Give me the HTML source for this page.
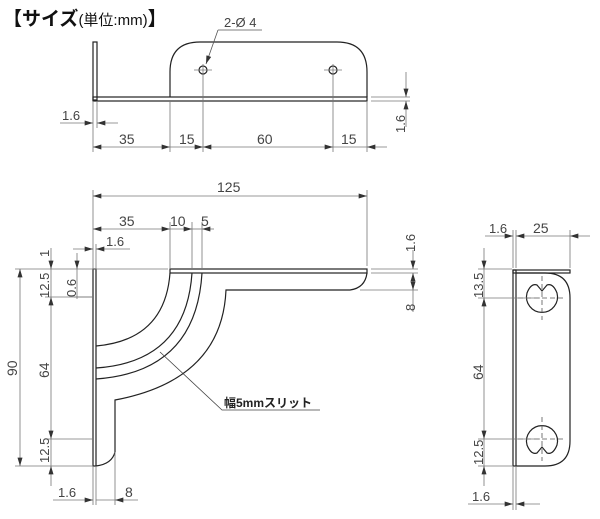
<!DOCTYPE html>
<html><head><meta charset="utf-8"><style>
html,body{margin:0;padding:0;background:#fff;}
svg{display:block;}
text{font-family:"Liberation Sans","Noto Sans CJK JP",sans-serif;fill:#444;}
</style></head><body>
<svg width="600" height="519" viewBox="0 0 600 519" xmlns="http://www.w3.org/2000/svg">
<defs>
<marker id="a" viewBox="0 0 10 6" refX="10" refY="3" markerWidth="9" markerHeight="5" markerUnits="userSpaceOnUse" orient="auto-start-reverse"><path d="M0,0L10,3L0,6Z" fill="#333"/></marker>
</defs>
<text x="3" y="25" font-size="19" font-weight="bold" style="fill:#111">【サイズ<tspan font-size="15" font-weight="normal">(単位:mm)</tspan>】</text>

<!-- TOP VIEW -->
<g stroke="#222" stroke-width="1.2" fill="none">
<rect x="93" y="42" width="4" height="58"/>
<rect x="93" y="97" width="274" height="4"/>
<path d="M170,97 L170,72 Q170,42 200,42 L337,42 Q367,42 367,72 L367,97"/>
<circle cx="203" cy="70" r="4"/><circle cx="333" cy="70" r="4"/>
</g>
<g stroke="#777" stroke-width="0.8" fill="none">
<line x1="194" y1="70" x2="212" y2="70"/><line x1="324" y1="70" x2="342" y2="70"/>
<line x1="203" y1="64" x2="203" y2="152"/><line x1="333" y1="64" x2="333" y2="152"/>
<line x1="93" y1="101" x2="93" y2="152"/><line x1="97" y1="101" x2="97" y2="128"/>
<line x1="170" y1="101" x2="170" y2="152"/><line x1="367" y1="101" x2="367" y2="152"/>
<line x1="93" y1="147" x2="170" y2="147" marker-start="url(#a)" marker-end="url(#a)"/>
<line x1="170" y1="147" x2="203" y2="147" marker-end="url(#a)"/>
<line x1="203" y1="147" x2="333" y2="147" marker-start="url(#a)" marker-end="url(#a)"/>
<line x1="333" y1="147" x2="367" y2="147"/>
<line x1="387" y1="147" x2="367" y2="147" marker-end="url(#a)"/>
<line x1="60" y1="123" x2="93" y2="123" marker-end="url(#a)"/>
<line x1="118" y1="123" x2="97" y2="123" marker-end="url(#a)"/>
<line x1="371" y1="97" x2="410" y2="97"/><line x1="371" y1="101" x2="410" y2="101"/>
<line x1="406" y1="72" x2="406" y2="97" marker-end="url(#a)"/>
<line x1="406" y1="127" x2="406" y2="101" marker-end="url(#a)"/>
<path d="M218,30 L262,30" stroke="#555"/>
<line x1="218" y1="30" x2="206" y2="64" stroke="#555" marker-end="url(#a)"/>
</g>
<text x="224" y="27" font-size="13">2-&#216; 4</text>
<text x="119" y="144" font-size="14">35</text><text x="179" y="144" font-size="14">15</text>
<text x="257" y="144" font-size="14">60</text><text x="341" y="144" font-size="14">15</text>
<text x="62" y="120" font-size="13">1.6</text>
<text transform="translate(405,133) rotate(-90)" font-size="13">1.6</text>

<!-- FRONT VIEW -->
<g stroke="#222" stroke-width="1.2" fill="none">
<rect x="170" y="269" width="197" height="4"/>
<rect x="93" y="269" width="3" height="197"/>
<path d="M367,273 Q365,288 350,290 L226,290 Q222,380 115,400 L115,452 Q112,464 96,466"/>
<path d="M170,273 Q165,340 96,346"/>
<path d="M192,273 Q186,362 96,368"/>
<path d="M202,273 Q196,372 96,379"/>
</g>
<g stroke="#777" stroke-width="0.8" fill="none">
<line x1="93" y1="190" x2="93" y2="269"/><line x1="367" y1="190" x2="367" y2="266"/>
<line x1="93" y1="196" x2="367" y2="196" marker-start="url(#a)" marker-end="url(#a)"/>
<line x1="170" y1="222" x2="170" y2="268"/><line x1="192" y1="222" x2="192" y2="268"/><line x1="202" y1="222" x2="202" y2="268"/>
<line x1="93" y1="229" x2="170" y2="229" marker-start="url(#a)" marker-end="url(#a)"/>
<line x1="170" y1="229" x2="192" y2="229" marker-end="url(#a)"/>
<line x1="214" y1="229" x2="202" y2="229" marker-end="url(#a)"/>
<line x1="192" y1="229" x2="202" y2="229"/>
<line x1="73" y1="249" x2="93" y2="249" marker-end="url(#a)"/>
<line x1="130" y1="249" x2="96" y2="249" marker-end="url(#a)"/>
<line x1="96" y1="244" x2="96" y2="269"/>
<line x1="15" y1="269" x2="168" y2="269"/><line x1="15" y1="466" x2="93" y2="466"/>
<line x1="20" y1="269" x2="20" y2="466" marker-start="url(#a)" marker-end="url(#a)"/>
<line x1="51" y1="248" x2="51" y2="269" marker-end="url(#a)"/>
<line x1="51" y1="269" x2="51" y2="297"/>
<line x1="51" y1="297" x2="51" y2="439" marker-start="url(#a)" marker-end="url(#a)"/>
<line x1="51" y1="439" x2="51" y2="466"/>
<line x1="51" y1="486" x2="51" y2="466" marker-end="url(#a)"/>
<line x1="45" y1="297" x2="93" y2="297"/><line x1="45" y1="439" x2="93" y2="439"/>
<line x1="77" y1="253" x2="77" y2="269" marker-end="url(#a)"/>
<line x1="77" y1="269" x2="77" y2="299"/><line x1="74" y1="297" x2="93" y2="297"/>
<line x1="93" y1="466" x2="93" y2="505"/><line x1="96" y1="466" x2="96" y2="505"/><line x1="115" y1="452" x2="115" y2="505"/>
<line x1="53" y1="500" x2="93" y2="500" marker-end="url(#a)"/>
<line x1="96" y1="500" x2="115" y2="500"/>
<line x1="138" y1="500" x2="115" y2="500" marker-end="url(#a)"/>
<line x1="371" y1="269" x2="418" y2="269"/><line x1="371" y1="273" x2="418" y2="273"/><line x1="360" y1="290" x2="418" y2="290"/>
<line x1="413" y1="250" x2="413" y2="269" marker-end="url(#a)"/>
<line x1="413" y1="273" x2="413" y2="290" marker-start="url(#a)" marker-end="url(#a)"/>
<line x1="413" y1="290" x2="413" y2="312"/>
<path d="M160,352 L222,410 L320,410" stroke="#444"/>
</g>
<text x="217" y="192" font-size="14">125</text>
<text x="119" y="226" font-size="14">35</text><text x="170" y="226" font-size="14">10</text><text x="201" y="226" font-size="14">5</text>
<text x="106" y="246" font-size="13">1.6</text>
<text transform="translate(17,376) rotate(-90)" font-size="14">90</text>
<text transform="translate(49,378) rotate(-90)" font-size="14">64</text>
<text transform="translate(49,298) rotate(-90)" font-size="13">12.5</text>
<text transform="translate(49,463) rotate(-90)" font-size="13">12.5</text>
<text transform="translate(49,257) rotate(-90)" font-size="13">1</text>
<text transform="translate(76,297) rotate(-90)" font-size="13">0.6</text>
<text x="58" y="497" font-size="13">1.6</text><text x="125" y="497" font-size="14">8</text>
<text transform="translate(415,252) rotate(-90)" font-size="13">1.6</text>
<text transform="translate(415,311) rotate(-90)" font-size="13">8</text>
<text x="224" y="407" font-size="12" font-weight="bold" style="fill:#222">幅5mmスリット</text>

<!-- SIDE VIEW -->
<g stroke="#222" stroke-width="1.2" fill="none">
<rect x="513" y="270" width="3" height="196"/>
<rect x="513" y="270" width="57" height="3"/>
<path d="M516,273 L545,273 Q570,273 570,298 L570,441 Q570,466 545,466 L516,466"/>
<path d="M527,293 A15.5,15.5 0 1 0 557,293 Q553,283 547,285 L542,291 L537,285 Q531,283 527,293 Z"/>
<path d="M527,445 A15.5,15.5 0 1 1 557,445 Q553,455 547,453 L542,447 L537,453 Q531,455 527,445 Z"/>
</g>
<g stroke="#555" stroke-width="0.8" fill="none" stroke-dasharray="5,3">
<line x1="518" y1="298" x2="566" y2="298"/><line x1="542" y1="276" x2="542" y2="320"/>
<line x1="518" y1="439" x2="566" y2="439"/><line x1="542" y1="417" x2="542" y2="461"/>
</g>
<g stroke="#777" stroke-width="0.8" fill="none">
<line x1="485" y1="236" x2="513" y2="236" marker-end="url(#a)"/>
<line x1="516" y1="236" x2="570" y2="236" marker-start="url(#a)"/>
<line x1="590" y1="236" x2="570" y2="236" marker-end="url(#a)"/>
<line x1="513" y1="230" x2="513" y2="268"/><line x1="516" y1="230" x2="516" y2="268"/><line x1="570" y1="230" x2="570" y2="268"/>
<line x1="478" y1="269" x2="512" y2="269"/><line x1="478" y1="298" x2="540" y2="298"/>
<line x1="478" y1="439" x2="540" y2="439"/><line x1="478" y1="466" x2="512" y2="466"/>
<line x1="484" y1="248" x2="484" y2="269" marker-end="url(#a)"/>
<line x1="484" y1="269" x2="484" y2="298"/>
<line x1="484" y1="298" x2="484" y2="439" marker-start="url(#a)" marker-end="url(#a)"/>
<line x1="484" y1="439" x2="484" y2="466"/>
<line x1="484" y1="486" x2="484" y2="466" marker-end="url(#a)"/>
<line x1="513" y1="466" x2="513" y2="510"/><line x1="516" y1="466" x2="516" y2="510"/>
<line x1="468" y1="504" x2="513" y2="504" marker-end="url(#a)"/>
<line x1="540" y1="504" x2="516" y2="504" marker-end="url(#a)"/>
</g>
<text x="489" y="233" font-size="13">1.6</text><text x="533" y="233" font-size="14">25</text>
<text transform="translate(483,298) rotate(-90)" font-size="13">13.5</text>
<text transform="translate(483,380) rotate(-90)" font-size="14">64</text>
<text transform="translate(483,465) rotate(-90)" font-size="13">12.5</text>
<text x="472" y="501" font-size="13">1.6</text>
</svg>
</body></html>
